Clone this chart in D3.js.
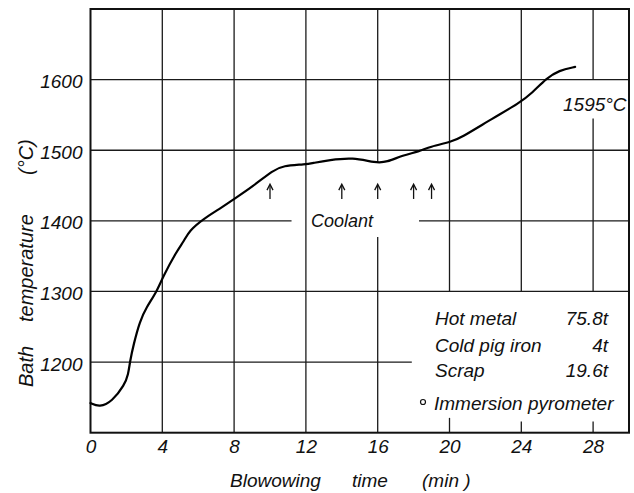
<!DOCTYPE html>
<html>
<head>
  <meta charset="utf-8">
  <style>
    body {
      margin: 0;
      background: #fff;
    }

    svg text {
      font-family: "Liberation Sans", Arial, sans-serif;
      font-style: italic;
      fill: #111;
    }

    .grid {
      stroke: #1a1a1a;
      stroke-width: 1.3;
      fill: none;
    }

    .frame {
      fill: none;
      stroke: #111;
      stroke-width: 2;
    }

    .curve {
      fill: none;
      stroke: #000;
      stroke-width: 2.2;
      stroke-linejoin: round;
      stroke-linecap: round;
    }
  </style>
  <script src="https://cdn.jsdelivr.net/npm/d3@7"></script>
</head>

<body>
  <script>
    // blowing time (min) and bath temperature (°C)
    const blowTime = [0, 0.5, 1.2, 1.9, 2.1, 2.2, 2.4, 2.75, 3.1, 3.7, 4.0, 4.8, 5.2, 5.5, 6.3, 7.2, 8.0, 9.0,
      10.2, 10.7, 12.0, 12.4, 13.3, 14.6, 15.9, 16.5, 17.4, 18.3, 18.9, 20.1, 20.6, 22.4, 23.9, 24.6,
      25.4, 26.1, 27.0];
    const bathTemp = [1142, 1136, 1144, 1168, 1182, 1201, 1225, 1258, 1277, 1300, 1319, 1357, 1371, 1386, 1403,
      1417, 1431, 1448, 1472, 1478, 1480, 1482, 1486, 1490, 1482, 1483, 1493, 1498, 1505, 1512, 1517,
      1545, 1567, 1581, 1602, 1613, 1618];

    // coolant additions (min)
    const coolantTimes = [10, 14, 16, 18, 19];

    const xTicks = [0, 4, 8, 12, 16, 20, 24, 28];
    const yTicks = [1200, 1300, 1400, 1500, 1600];

    const legendNames = ["Hot metal", "Cold pig iron", "Scrap"];
    const legendValues = ["75.8t", "4t", "19.6t"];
    const pyrometerLabel = "Immersion pyrometer";
    const finalTempLabel = "1595°C";

    const width = 634;
    const height = 493;

    const x = d3.scaleLinear().domain([0, 30]).range([90.5, 629]);
    const y = d3.scaleLinear().domain([1100, 1700]).range([432.7, 9]);

    const svg = d3.select("body")
      .append("svg")
      .attr("width", width)
      .attr("height", height);

    // grid, with the gaps left for the labels as in the drawing
    const hGrid = [
      [1600, 0, 30], [1500, 0, 30], [1400, 0, 11.2], [1400, 18.3, 30],
      [1300, 0, 30], [1200, 0, 17.9]
    ];
    const vGrid = [
      [4, 1100, 1700], [8, 1100, 1700], [12, 1100, 1700],
      [16, 1100, 1377], [16, 1482, 1700],
      [20, 1300, 1700], [20, 1100, 1121],
      [24, 1300, 1700], [24, 1100, 1116],
      [28, 1300, 1545], [28, 1600, 1700], [28, 1100, 1116]
    ];

    const grid = svg.append("g");
    grid.selectAll(".h")
      .data(hGrid)
      .enter().append("line")
      .attr("class", "grid")
      .attr("x1", d => x(d[1]))
      .attr("x2", d => x(d[2]))
      .attr("y1", d => y(d[0]))
      .attr("y2", d => y(d[0]));

    grid.selectAll(".v")
      .data(vGrid)
      .enter().append("line")
      .attr("class", "grid")
      .attr("x1", d => x(d[0]))
      .attr("x2", d => x(d[0]))
      .attr("y1", d => y(d[1]))
      .attr("y2", d => y(d[2]));

    svg.append("rect")
      .attr("class", "frame")
      .attr("x", x(0))
      .attr("y", y(1700))
      .attr("width", x(30) - x(0))
      .attr("height", y(1100) - y(1700));

    // axes: labels only
    const xAxis = svg.append("g")
      .attr("transform", `translate(0,${y(1100)})`)
      .call(d3.axisBottom(x).tickValues(xTicks).tickSize(0).tickPadding(6.5));
    xAxis.select(".domain").remove();
    xAxis.selectAll("text")
      .style("font-size", "19px")
      .style("font-family", null);

    const yAxis = svg.append("g")
      .attr("transform", `translate(${x(0)},0)`)
      .call(d3.axisLeft(y).tickValues(yTicks).tickFormat(d3.format("d")).tickSize(0).tickPadding(8));
    yAxis.select(".domain").remove();
    yAxis.selectAll("text")
      .style("font-size", "19px")
      .style("font-family", null)
      .attr("dy", "0.42em");

    // axis titles
    const xTitle = [["Blowowing", 230], ["time", 352], ["(min )", 422]];
    svg.selectAll(".xt")
      .data(xTitle)
      .enter().append("text")
      .attr("x", d => d[1])
      .attr("y", 487)
      .style("font-size", "19px")
      .text(d => d[0]);

    const yTitle = [["Bath", 387], ["temperature", 322], ["(°C)", 175]];
    svg.selectAll(".yt")
      .data(yTitle)
      .enter().append("text")
      .attr("transform", d => `translate(33,${d[1]}) rotate(-90)`)
      .style("font-size", "20px")
      .text(d => d[0]);

    // temperature curve
    const line = d3.line()
      .x(d => x(d[0]))
      .y(d => y(d[1]))
      .curve(d3.curveBasis);

    svg.append("path")
      .datum(d3.zip(blowTime, bathTemp))
      .attr("class", "curve")
      .attr("d", line);

    // coolant arrows
    const arrows = svg.append("g");
    coolantTimes.forEach(t => {
      const ax = x(t);
      const top = y(1452);
      const bottom = y(1431);
      arrows.append("line")
        .attr("x1", ax).attr("x2", ax)
        .attr("y1", top + 1).attr("y2", bottom)
        .attr("stroke", "#111")
        .attr("stroke-width", 1.3);
      arrows.append("path")
        .attr("d", `M${ax - 3},${top + 6} L${ax},${top} L${ax + 3},${top + 6}`)
        .attr("fill", "none")
        .attr("stroke", "#111")
        .attr("stroke-width", 1.3);
    });

    svg.append("text")
      .attr("x", 311)
      .attr("y", 226.7)
      .style("font-size", "18px")
      .text("Coolant");

    svg.append("text")
      .attr("x", 563)
      .attr("y", 111)
      .style("font-size", "19px")
      .text(finalTempLabel);

    // charge table
    const rowY = [325, 351.5, 377];
    svg.selectAll(".ln")
      .data(legendNames)
      .enter().append("text")
      .attr("x", 435)
      .attr("y", (d, i) => rowY[i])
      .style("font-size", "19px")
      .text(d => d);

    svg.selectAll(".lv")
      .data(legendValues)
      .enter().append("text")
      .attr("x", 608)
      .attr("y", (d, i) => rowY[i])
      .attr("text-anchor", "end")
      .style("font-size", "19px")
      .text(d => d);

    svg.append("circle")
      .attr("cx", 423)
      .attr("cy", 402)
      .attr("r", 2.5)
      .attr("fill", "none")
      .attr("stroke", "#111")
      .attr("stroke-width", 1.2);

    svg.append("text")
      .attr("x", 434)
      .attr("y", 410)
      .style("font-size", "19px")
      .text(pyrometerLabel);
  </script>
</body>
</html>
